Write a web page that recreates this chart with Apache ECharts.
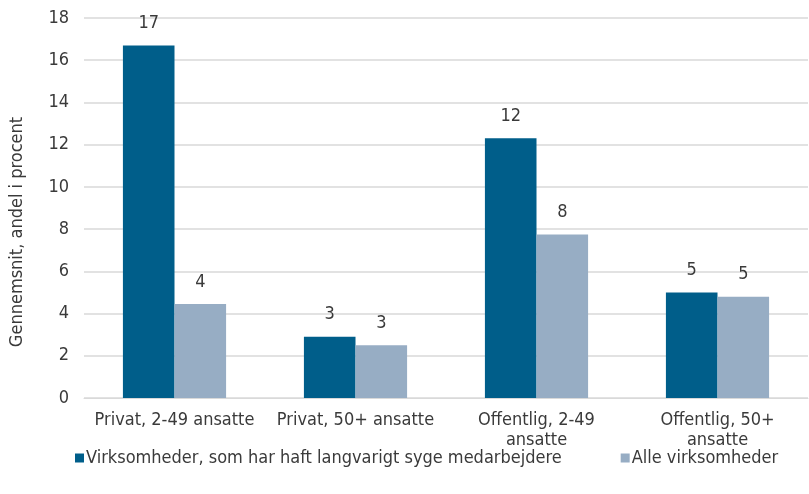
<!DOCTYPE html>
<html><head><meta charset="utf-8">
<script src="https://cdn.jsdelivr.net/npm/echarts@6/dist/echarts.min.js"></script>
<style>html,body{margin:0;padding:0;background:#fff}#c{width:809px;height:494px}</style>
</head><body><div id="c"></div>
<script>
const categories = ["Privat, 2-49 ansatte", "Privat, 50+ ansatte", "Offentlig, 2-49 ansatte", "Offentlig, 50+ ansatte"];
const seriesNames = ["Virksomheder, som har haft langvarigt syge medarbejdere", "Alle virksomheder"];
const sickValues = [16.7, 2.9, 12.3, 5.0];
const allValues = [4.45, 2.5, 7.75, 4.8];
const yTicks = {min: 0, max: 18, interval: 2};
const yName = "Gennemsnit, andel i procent";

const FONT = "'DejaVu Sans Condensed', sans-serif";
const TXT = '#3a3a3a';
const FS = 18;
const chart = echarts.init(document.getElementById('c'), null, {renderer: 'canvas'});
const lbl = {show: true, position: 'top', distance: 13, color: TXT, fontSize: FS, fontFamily: FONT,
  formatter: p => Math.round(p.value)};
chart.setOption({
  animation: false,
  textStyle: {fontFamily: FONT},
  grid: {left: 82, right: 1, top: 18, bottom: 96, containLabel: false},
  legend: {
    bottom: 22, left: 70, itemWidth: 9, itemHeight: 9, itemGap: 59,
    icon: 'rect',
    textStyle: {color: TXT, fontSize: FS, fontFamily: FONT, padding: [0, 0, 0, -3]},
    data: seriesNames
  },
  xAxis: {
    type: 'category', data: categories,
    axisLine: {lineStyle: {color: '#d9d9d9', width: 1}},
    axisTick: {show: false},
    axisLabel: {color: TXT, fontSize: FS, fontFamily: FONT, margin: 12, lineHeight: 20, interval: 0,
      formatter: v => v.startsWith('Offentlig') ? v.replace(/ (\S+)$/, '\n$1') : v}
  },
  yAxis: {
    type: 'value', min: yTicks.min, max: yTicks.max, interval: yTicks.interval,
    name: yName, nameLocation: 'middle', nameGap: 58, nameRotate: 90,
    nameTextStyle: {color: TXT, fontSize: FS, fontFamily: FONT, padding: [0, 48, 0, 0]},
    axisLine: {show: false}, axisTick: {show: false},
    axisLabel: {color: TXT, fontSize: FS, fontFamily: FONT, margin: 15},
    splitLine: {lineStyle: {color: '#d9d9d9', width: 1.5}}
  },
  series: [
    {name: seriesNames[0], type: 'bar', data: sickValues, barGap: '0%', barCategoryGap: '43%',
      itemStyle: {color: '#005E8A'}, label: lbl},
    {name: seriesNames[1], type: 'bar', data: allValues,
      itemStyle: {color: '#97ADC4'}, label: lbl}
  ]
});
</script></body></html>
